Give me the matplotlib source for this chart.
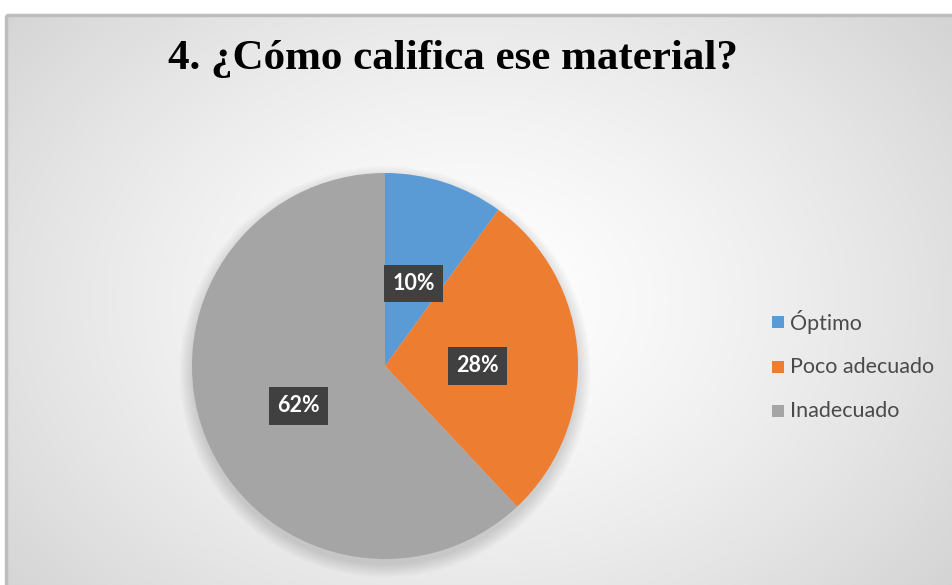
import numpy as np
import matplotlib
matplotlib.use("Agg")
import matplotlib.pyplot as plt
from matplotlib.patches import Rectangle, Circle

categories = ["Óptimo", "Poco adecuado", "Inadecuado"]
values = [10, 28, 62]
colors = ["#5B9BD5", "#ED7D31", "#A5A5A5"]
title = "4. ¿Cómo califica ese material?"

W, H = 953, 585
fig = plt.figure(figsize=(W / 100, H / 100), dpi=100)
fig.patch.set_facecolor("white")

# background frame with radial gradient
bg = fig.add_axes([0, 0, 1, 1])
bg.set_xlim(0, W)
bg.set_ylim(H, 0)
bg.axis("off")
yy, xx = np.mgrid[0:H, 0:W]
cx, cy = 470, 300
d = np.sqrt(((xx - cx) / 560) ** 2 + ((yy - cy) / 420) ** 2)
g = np.clip(1.0 - 0.15 * d ** 1.4, 0.82, 1.0)
img = np.dstack([g, g, g])
x0, y0 = 6, 15
bg.imshow(img[y0:, x0:], extent=(x0, W, H, y0), zorder=0, aspect="auto")
bg.add_patch(Rectangle((x0, y0), W - x0 + 5, H - y0 + 5, fill=False,
                       edgecolor="#BDBDBD", linewidth=2.5, zorder=1))

fig.text(453 / W, 1 - 59 / H, title, ha="center", va="center",
         fontsize=31, fontweight="bold", family="Liberation Serif", color="black")

# pie
pcx, pcy, r = 385, 366, 193
ax = fig.add_axes([(pcx - r) / W, (H - pcy - r) / H, 2 * r / W, 2 * r / H])
# soft shadow
for i in range(12):
    ax.add_patch(Circle((0, -0.03), 1.0 + 0.006 * i, color="black",
                        alpha=0.012, zorder=0, linewidth=0, clip_on=False))
wedges, texts, autotexts = ax.pie(
    values, colors=colors, startangle=90, counterclock=False, radius=1,
    autopct=lambda p: f"{p:.0f}%", pctdistance=0.48,
    wedgeprops=dict(linewidth=0), textprops=dict(zorder=5))
ax.set_xlim(-1, 1)
ax.set_ylim(-1, 1)
ax.set_aspect("equal")
ax.axis("off")
for t in autotexts:
    t.set_color("white")
    t.set_fontsize(15.5)
    t.set_fontweight("bold")
    t.set_family("Lato")
    px, py = t.get_position()
    t.set_position((px, py - 0.03))
    t.set_bbox(dict(boxstyle="square,pad=0.38", facecolor="#404040",
                    edgecolor="none"))

# legend
leg_x, leg_ys = 778, [322, 367, 411]
for cat, col, ly in zip(categories, colors, leg_ys):
    bg.add_patch(Rectangle((leg_x - 6, ly - 6), 12, 12, facecolor=col,
                           edgecolor="none", zorder=3))
    bg.text(leg_x + 12, ly, cat, ha="left", va="center", fontsize=15.5,
            family="Lato", color="#4A4A4A", zorder=3)

fig.savefig("out.png", dpi=100, facecolor="white")
